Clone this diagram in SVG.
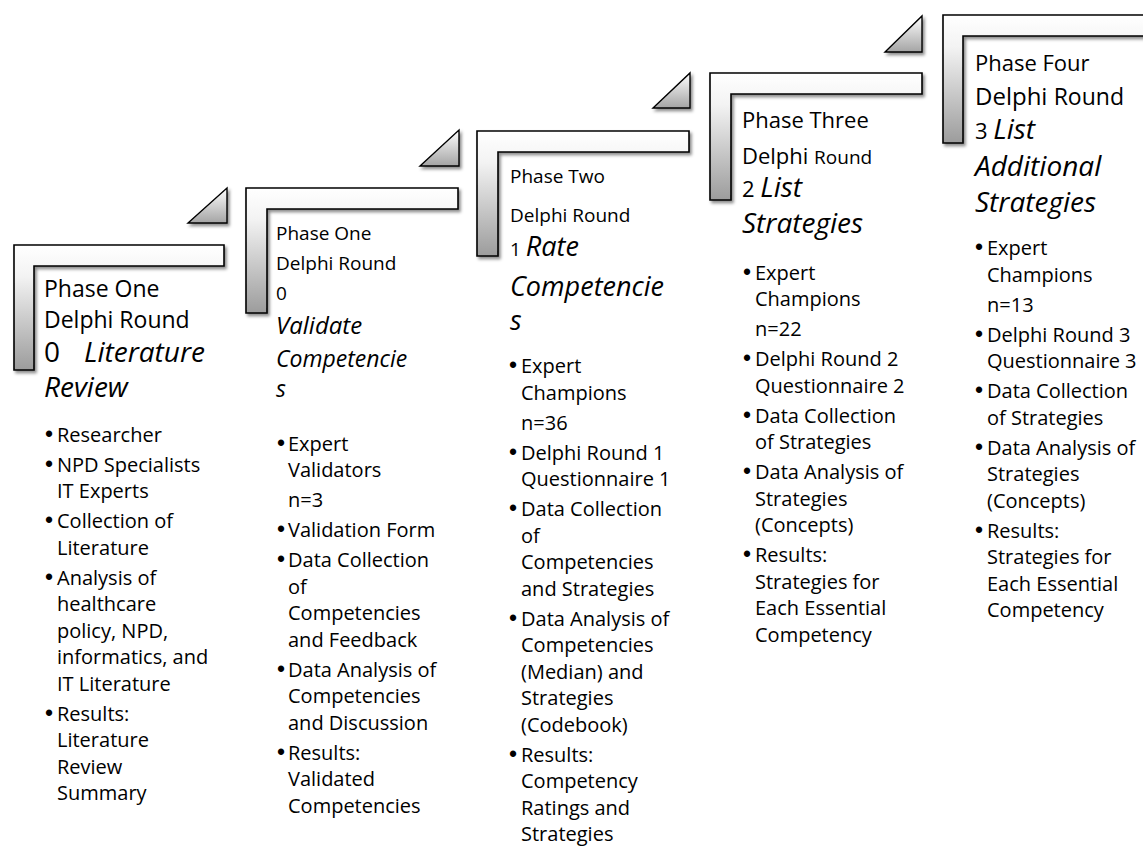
<svg xmlns="http://www.w3.org/2000/svg" width="1143" height="846" viewBox="0 0 1143 846">
  <defs>
    <linearGradient id="gradStep" x1="0" y1="0" x2="0" y2="1">
      <stop offset="0" stop-color="#ffffff"/>
      <stop offset="0.25" stop-color="#f3f3f3"/>
      <stop offset="1" stop-color="#9c9c9c"/>
    </linearGradient>
    <linearGradient id="gradTri" x1="0" y1="0" x2="0" y2="1">
      <stop offset="0" stop-color="#ffffff"/>
      <stop offset="1" stop-color="#a4a4a4"/>
    </linearGradient>
    <filter id="shadow" x="-10%" y="-10%" width="130%" height="130%">
      <feDropShadow dx="2" dy="2.5" stdDeviation="1.5" flood-color="#000" flood-opacity="0.45"/>
    </filter>
  </defs>
  <style>
    .step { fill: url(#gradStep); stroke: #000; stroke-width: 1.6; filter: url(#shadow); }
    .tri { fill: url(#gradTri); stroke: #000; stroke-width: 1.4; filter: url(#shadow); }
    text { font-family: "Open Sans", "Noto Sans", sans-serif; fill: #000; }
    .it { font-style: italic; }
    .b { font-size: 20px; }
    .dot { font-family: "Liberation Sans", Arial, sans-serif; font-size: 23px; }
  </style>
  <rect width="1143" height="846" fill="#ffffff"/>

  <!-- step 1 -->
  <g id="step1">
    <path class="step" d="M14,245 H224 V266 H34 V370 H14 Z"/>
    <text x="44" y="297" font-size="23">Phase One</text>
    <text x="44" y="328" font-size="23">Delphi Round</text>
    <text x="44" y="362" font-size="28">0</text>
    <text x="84" y="362" font-size="28" class="it">Literature</text>
    <text x="44" y="397" font-size="28" class="it">Review</text>
    <g class="b">
      <text class="dot" x="45" y="442">•</text><text x="57" y="442">Researcher</text>
      <text class="dot" x="45" y="472">•</text><text x="57" y="472">NPD Specialists</text>
      <text x="57" y="498">IT Experts</text>
      <text class="dot" x="45" y="528">•</text><text x="57" y="528">Collection of</text>
      <text x="57" y="555">Literature</text>
      <text class="dot" x="45" y="585">•</text><text x="57" y="585">Analysis of</text>
      <text x="57" y="611">healthcare</text>
      <text x="57" y="638">policy, NPD,</text>
      <text x="57" y="664">informatics, and</text>
      <text x="57" y="691">IT Literature</text>
      <text class="dot" x="45" y="721">•</text><text x="57" y="721">Results:</text>
      <text x="57" y="747">Literature</text>
      <text x="57" y="774">Review</text>
      <text x="57" y="800">Summary</text>
    </g>
  </g>

  <!-- step 2 -->
  <g id="step2">
    <path class="step" d="M246,188 H458 V209 H267 V313 H246 Z"/>
    <text x="276" y="240" font-size="19">Phase One</text>
    <text x="276" y="270" font-size="19">Delphi Round</text>
    <text x="276" y="300" font-size="19">0</text>
    <text x="276" y="334" font-size="24" class="it">Validate</text>
    <text x="276" y="367" font-size="23" class="it">Competencie</text>
    <text x="276" y="397" font-size="23" class="it">s</text>
    <g class="b">
      <text class="dot" x="277" y="451">•</text><text x="288" y="451">Expert</text>
      <text x="288" y="477">Validators</text>
      <text x="288" y="507">n=3</text>
      <text class="dot" x="277" y="537">•</text><text x="288" y="537">Validation Form</text>
      <text class="dot" x="277" y="567">•</text><text x="288" y="567">Data Collection</text>
      <text x="288" y="594">of</text>
      <text x="288" y="620">Competencies</text>
      <text x="288" y="647">and Feedback</text>
      <text class="dot" x="277" y="677">•</text><text x="288" y="677">Data Analysis of</text>
      <text x="288" y="703">Competencies</text>
      <text x="288" y="730">and Discussion</text>
      <text class="dot" x="277" y="760">•</text><text x="288" y="760">Results:</text>
      <text x="288" y="786">Validated</text>
      <text x="288" y="813">Competencies</text>
    </g>
  </g>

  <!-- step 3 -->
  <g id="step3">
    <path class="step" d="M477,131 H689 V152 H498 V256 H477 Z"/>
    <text x="510" y="183" font-size="19">Phase Two</text>
    <text x="510" y="222" font-size="19">Delphi Round</text>
    <text x="510" y="256" font-size="19">1 <tspan class="it" font-size="27">Rate</tspan></text>
    <text x="510" y="296" font-size="27" class="it">Competencie</text>
    <text x="510" y="330" font-size="27" class="it">s</text>
    <g class="b">
      <text class="dot" x="509" y="373">•</text><text x="521" y="373">Expert</text>
      <text x="521" y="400">Champions</text>
      <text x="521" y="430">n=36</text>
      <text class="dot" x="509" y="460">•</text><text x="521" y="460">Delphi Round 1</text>
      <text x="521" y="486">Questionnaire 1</text>
      <text class="dot" x="509" y="516">•</text><text x="521" y="516">Data Collection</text>
      <text x="521" y="543">of</text>
      <text x="521" y="569">Competencies</text>
      <text x="521" y="596">and Strategies</text>
      <text class="dot" x="509" y="626">•</text><text x="521" y="626">Data Analysis of</text>
      <text x="521" y="652">Competencies</text>
      <text x="521" y="679">(Median) and</text>
      <text x="521" y="705">Strategies</text>
      <text x="521" y="732">(Codebook)</text>
      <text class="dot" x="509" y="762">•</text><text x="521" y="762">Results:</text>
      <text x="521" y="788">Competency</text>
      <text x="521" y="815">Ratings and</text>
      <text x="521" y="841">Strategies</text>
    </g>
  </g>

  <!-- step 4 -->
  <g id="step4">
    <path class="step" d="M710,73 H922 V94 H731 V200 H710 Z"/>
    <text x="742" y="128" font-size="22">Phase Three</text>
    <text x="742" y="164" font-size="22">Delphi <tspan font-size="19">Round</tspan></text>
    <text x="742" y="197" font-size="22">2 <tspan class="it" font-size="28">List</tspan></text>
    <text x="742" y="233" font-size="28" class="it">Strategies</text>
    <g class="b">
      <text class="dot" x="743" y="280">•</text><text x="755" y="280">Expert</text>
      <text x="755" y="306">Champions</text>
      <text x="755" y="336">n=22</text>
      <text class="dot" x="743" y="366">•</text><text x="755" y="366">Delphi Round 2</text>
      <text x="755" y="393">Questionnaire 2</text>
      <text class="dot" x="743" y="423">•</text><text x="755" y="423">Data Collection</text>
      <text x="755" y="449">of Strategies</text>
      <text class="dot" x="743" y="479">•</text><text x="755" y="479">Data Analysis of</text>
      <text x="755" y="506">Strategies</text>
      <text x="755" y="532">(Concepts)</text>
      <text class="dot" x="743" y="562">•</text><text x="755" y="562">Results:</text>
      <text x="755" y="589">Strategies for</text>
      <text x="755" y="615">Each Essential</text>
      <text x="755" y="642">Competency</text>
    </g>
  </g>

  <!-- step 5 -->
  <g id="step5">
    <path class="step" d="M943,15 H1162 V36 H963 V143 H943 Z"/>
    <text x="975" y="71" font-size="22">Phase Four</text>
    <text x="975" y="105" font-size="24">Delphi <tspan font-size="23">Round</tspan></text>
    <text x="975" y="139" font-size="22">3 <tspan class="it" font-size="28">List</tspan></text>
    <text x="975" y="176" font-size="28" class="it">Additional</text>
    <text x="975" y="212" font-size="28" class="it">Strategies</text>
    <g class="b">
      <text class="dot" x="975" y="255">•</text><text x="987" y="255">Expert</text>
      <text x="987" y="282">Champions</text>
      <text x="987" y="312">n=13</text>
      <text class="dot" x="975" y="342">•</text><text x="987" y="342">Delphi Round 3</text>
      <text x="987" y="368">Questionnaire 3</text>
      <text class="dot" x="975" y="398">•</text><text x="987" y="398">Data Collection</text>
      <text x="987" y="425">of Strategies</text>
      <text class="dot" x="975" y="455">•</text><text x="987" y="455">Data Analysis of</text>
      <text x="987" y="481">Strategies</text>
      <text x="987" y="508">(Concepts)</text>
      <text class="dot" x="975" y="538">•</text><text x="987" y="538">Results:</text>
      <text x="987" y="564">Strategies for</text>
      <text x="987" y="591">Each Essential</text>
      <text x="987" y="617">Competency</text>
    </g>
  </g>

  <!-- step-up triangles between steps -->
  <g id="connectors">
    <path class="tri" d="M188,223 H227 V188 Z"/>
    <path class="tri" d="M420,166 H459 V130 Z"/>
    <path class="tri" d="M653,108 H690 V73 Z"/>
    <path class="tri" d="M885,52 H922 V16 Z"/>
  </g>
</svg>
